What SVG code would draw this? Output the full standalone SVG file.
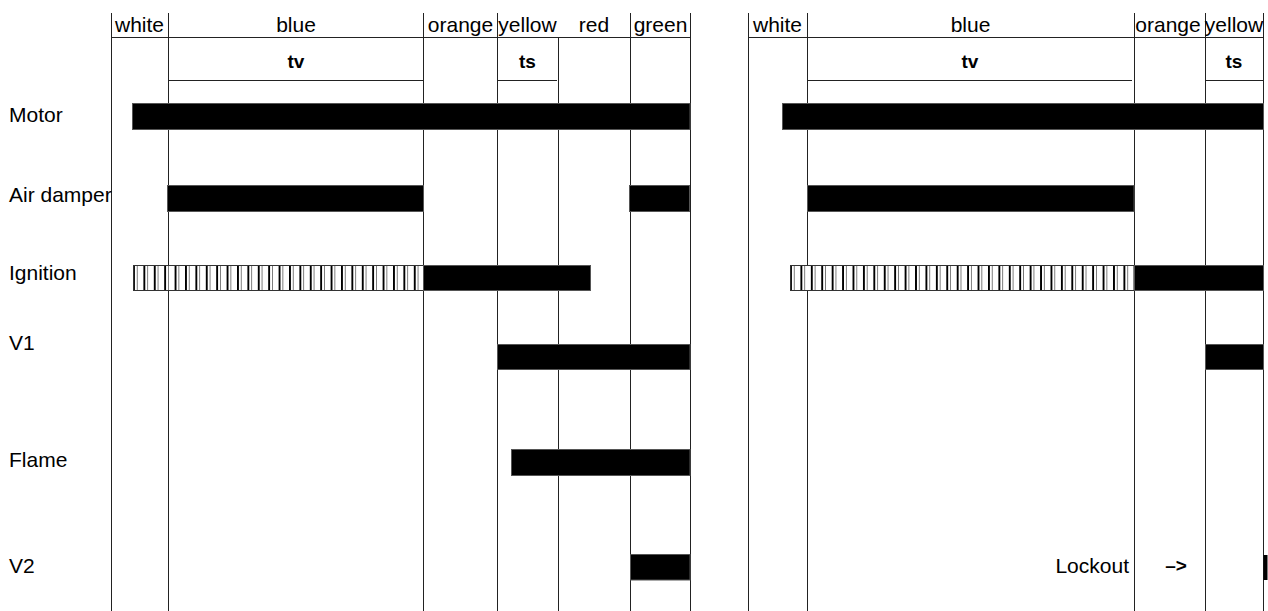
<svg xmlns="http://www.w3.org/2000/svg" width="1268" height="611" viewBox="0 0 1268 611">
<style>
text{font-family:"Liberation Sans",Arial,sans-serif;fill:#000}
.h{font-size:21px;text-anchor:middle}
.b{font-size:19px;font-weight:bold;text-anchor:middle}
.l{font-size:21px}
.g{stroke:#222;stroke-width:1;fill:none}
.bar{fill:#000;stroke:#555;stroke-width:1}
.hk{stroke:#000;stroke-width:1.6;shape-rendering:crispEdges}
.ht{stroke:#777;stroke-width:1;shape-rendering:crispEdges}
</style>
<defs>
<pattern id="hatL" patternUnits="userSpaceOnUse" x="133" y="265" width="10.4" height="26">
<rect width="10.4" height="26" fill="#fff"/>
<line class="hk" x1="0.8" y1="0" x2="0.8" y2="26"/>
<line class="ht" x1="4" y1="0" x2="4" y2="26"/>
</pattern>
<pattern id="hatR" patternUnits="userSpaceOnUse" x="790" y="265" width="10.42" height="26">
<rect width="10.42" height="26" fill="#fff"/>
<line class="hk" x1="0.8" y1="0" x2="0.8" y2="26"/>
<line class="ht" x1="4" y1="0" x2="4" y2="26"/>
</pattern>
</defs>
<rect width="1268" height="611" fill="#fff"/>
<g id="grid-left" class="g">
<line x1="111.5" y1="13" x2="111.5" y2="611"/>
<line x1="168.5" y1="13" x2="168.5" y2="611"/>
<line x1="423.5" y1="13" x2="423.5" y2="611"/>
<line x1="497.5" y1="13" x2="497.5" y2="611"/>
<line x1="558.5" y1="37" x2="558.5" y2="611"/>
<line x1="630.5" y1="13" x2="630.5" y2="611"/>
<line x1="690.5" y1="13" x2="690.5" y2="611"/>
<line x1="111" y1="37.5" x2="691" y2="37.5"/>
<line x1="168" y1="80.5" x2="423" y2="80.5"/>
<line x1="497" y1="80.5" x2="557" y2="80.5"/>
</g>
<g id="grid-right" class="g">
<line x1="748.5" y1="13" x2="748.5" y2="611"/>
<line x1="807.5" y1="13" x2="807.5" y2="611"/>
<line x1="1134.5" y1="13" x2="1134.5" y2="611"/>
<line x1="1205.5" y1="13" x2="1205.5" y2="611"/>
<line x1="1263.5" y1="13" x2="1263.5" y2="611"/>
<line x1="748" y1="37.5" x2="1264" y2="37.5"/>
<line x1="808" y1="80.5" x2="1132" y2="80.5"/>
<line x1="1205" y1="80.5" x2="1263" y2="80.5"/>
</g>
<g id="header-left">
<text class="h" x="139.5" y="31.5">white</text>
<text class="h" x="296" y="31.5">blue</text>
<text class="h" x="460.5" y="31.5">orange</text>
<text class="h" x="527.5" y="31.5">yellow</text>
<text class="h" x="594" y="31.5">red</text>
<text class="h" x="660.5" y="31.5">green</text>
<text class="b" x="296" y="68">tv</text>
<text class="b" x="527.5" y="68">ts</text>
</g>
<g id="header-right">
<text class="h" x="777.5" y="31.5">white</text>
<text class="h" x="970.5" y="31.5">blue</text>
<text class="h" x="1168" y="31.5">orange</text>
<text class="h" x="1234" y="31.5">yellow</text>
<text class="b" x="970" y="68">tv</text>
<text class="b" x="1234" y="68">ts</text>
</g>
<g id="labels">
<text class="l" x="9" y="121.5">Motor</text>
<text class="l" x="9" y="202">Air damper</text>
<text class="l" x="9" y="280">Ignition</text>
<text class="l" x="9" y="350">V1</text>
<text class="l" x="9" y="467">Flame</text>
<text class="l" x="9" y="573">V2</text>
</g>
<g id="bars-left">
<rect class="bar" x="132.5" y="103.5" width="557.5" height="26"/>
<rect class="bar" x="167.5" y="185.5" width="256" height="26"/>
<rect class="bar" x="629.5" y="185.5" width="60" height="26"/>
<rect x="133.5" y="265.5" width="290" height="25" fill="url(#hatL)" stroke="#333" stroke-width="1"/>
<rect class="bar" x="423.5" y="265.5" width="167" height="25"/>
<rect class="bar" x="497.5" y="344.5" width="192.5" height="25"/>
<rect class="bar" x="511.5" y="449.5" width="178.5" height="26"/>
<rect class="bar" x="630.5" y="554.5" width="59.5" height="25.5"/>
</g>
<g id="bars-right">
<rect class="bar" x="782.5" y="103.5" width="481" height="26"/>
<rect class="bar" x="807.5" y="185.5" width="326.5" height="26"/>
<rect x="790.5" y="265.5" width="343.5" height="25" fill="url(#hatR)" stroke="#333" stroke-width="1"/>
<rect class="bar" x="1134.5" y="265.5" width="129" height="25"/>
<rect class="bar" x="1205.5" y="344.5" width="58" height="25"/>
<rect x="1263.5" y="555" width="4" height="25" fill="#000"/>
<text class="l" x="1129" y="573" text-anchor="end">Lockout</text>
<text x="1176" y="572" font-size="19" font-weight="bold" text-anchor="middle">–&gt;</text>
</g>
</svg>
